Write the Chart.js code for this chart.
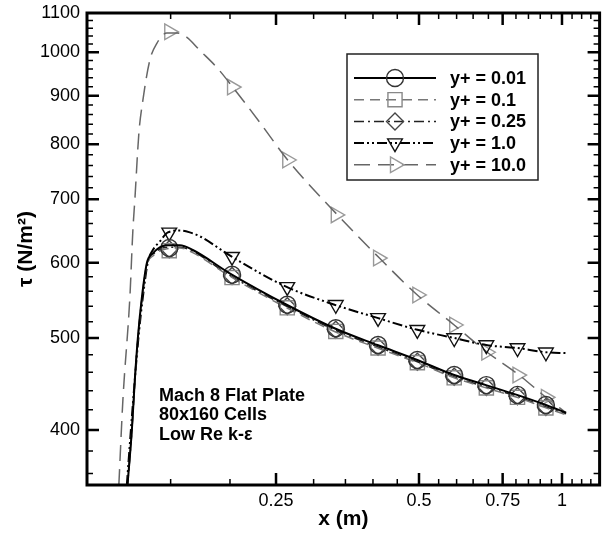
<!DOCTYPE html>
<html>
<head>
<meta charset="utf-8">
<script src="https://cdn.jsdelivr.net/npm/chart.js@4.4.0/dist/chart.umd.min.js"></script>
<style>
  html, body { margin: 0; padding: 0; background: #fff; }
</style>
</head>
<body>
<canvas id="tauChart" width="611" height="535"></canvas>
<script>
// Wall shear stress along a Mach 8 flat plate, one curve per first-cell y+
const seriesLabels = ['y+ = 0.01', 'y+ = 0.1', 'y+ = 0.25', 'y+ = 1.0', 'y+ = 10.0'];

// the three finest grids share one x grid
const xFine = [0.1217, 0.1243, 0.1261, 0.128, 0.1305, 0.1337, 0.1376, 0.1473, 0.1568, 0.167,
               0.1997, 0.2632, 0.3319, 0.4087, 0.496, 0.593, 0.692, 0.804, 0.925, 1.02];
const tau001 = [350, 400, 452, 501, 552, 600, 614, 626, 626, 619,
                585, 542, 512, 491.5, 474, 457, 446, 435.5, 425, 417];
const tau01  = [350, 399, 450, 499, 549, 597, 610, 621, 622, 615,
                581, 538, 508, 488, 471, 454, 443, 433, 422, 415];
const tau025 = [350, 399, 451, 500, 550, 598, 612, 623, 623, 617,
                582, 540, 510, 489.5, 472, 455, 444, 434, 423, 416];

const xY1 = [0.1213, 0.1237, 0.1261, 0.1286, 0.1311, 0.1343, 0.1376, 0.1424, 0.148, 0.1568, 0.1646,
             0.1727, 0.2017, 0.2632, 0.3319, 0.4087, 0.496, 0.593, 0.692, 0.804, 0.925, 1.02];
const tau1 = [350, 400, 452, 506, 552, 601, 619, 632, 646, 649, 646,
              640, 609, 566, 542, 525, 510, 500, 491.5, 488, 483, 482];

const xY10 = [0.1167, 0.119, 0.1231, 0.1249, 0.1261, 0.1286, 0.1311, 0.1356, 0.1403, 0.1473, 0.1546,
              0.1623, 0.1727, 0.1876, 0.2027, 0.2309, 0.2645, 0.3368, 0.4127, 0.496, 0.593,
              0.6957, 0.8122, 0.925, 1.02];
const tau10 = [350, 430, 552, 649, 699, 822, 890, 981, 1022, 1048, 1048,
               1037, 1005, 964, 919, 844, 770, 674, 607, 555, 516,
               483, 457, 433, 417];

// symbols are only plotted every few grid points
const markX   = [0.149, 0.202, 0.264, 0.334, 0.41, 0.496, 0.593, 0.693, 0.806, 0.925];
const mark001 = [622, 583, 542, 512, 491.5, 474, 457, 446, 435.5, 425];
const mark01  = [618, 579, 538, 508, 488, 471, 454, 443, 433, 422];
const mark025 = [620, 581, 540, 510, 489.5, 472, 455, 444, 434, 423];
const mark1   = [646, 609, 566, 542, 525, 510, 500, 491.5, 488, 483];
const mark10  = [1051, 919, 770, 674, 607, 555, 516, 483, 457, 433];

// axes
const xTickLabels = [0.25, 0.5, 0.75, 1];
const xMinorTicks = [0.15, 0.2, 0.3, 0.35, 0.4, 0.45, 0.55, 0.6, 0.65, 0.7,
                     0.8, 0.85, 0.9, 0.95, 1.05, 1.1, 1.15];
const yTickLabels = [400, 500, 600, 700, 800, 900, 1000, 1100];
const yMinorTicks = [360, 380, 420, 440, 460, 480, 520, 540, 560, 580, 620, 640, 660, 680,
                     720, 740, 760, 780, 820, 840, 860, 880, 920, 940, 960, 980,
                     1020, 1040, 1060, 1080];
const noteLines = ['Mach 8 Flat Plate', '80x160 Cells', 'Low Re k-\u03b5'];

const FONT = "'Liberation Sans', Arial, Helvetica, sans-serif";

const lineX = [xFine, xFine, xFine, xY1, xY10];
const lineY = [tau001, tau01, tau025, tau1, tau10];
const markY = [mark001, mark01, mark025, mark1, mark10];

// one style per curve: line colour/dash and symbol
const styles = [
  { color: '#000', width: 2,   dash: [],                 point: 'circle',   rot: 0,   r: 8.5, pc: '#333' },
  { color: '#777', width: 1.5, dash: [10, 6],            point: 'rect',     rot: 0,   r: 10,  pc: '#888' },
  { color: '#222', width: 1.5, dash: [10, 4, 2, 4],      point: 'rectRot',  rot: 0,   r: 8.5, pc: '#444' },
  { color: '#000', width: 2,   dash: [10, 3, 2, 3, 2, 3], point: 'triangle', rot: 180, r: 8.5, pc: '#111' },
  { color: '#666', width: 1.5, dash: [16, 8],            point: 'triangle', rot: 90,  r: 9,   pc: '#999' }
];

const toPoints = (xs, ys) => xs.map((x, i) => ({ x: x, y: ys[i] }));

const datasets = [];
seriesLabels.forEach((label, i) => {
  const s = styles[i];
  datasets.push({
    label: label,
    data: toPoints(lineX[i], lineY[i]),
    showLine: true,
    borderColor: s.color,
    borderWidth: s.width,
    borderDash: s.dash,
    pointRadius: 0,
    cubicInterpolationMode: 'monotone'
  });
  datasets.push({
    label: label + ' symbols',
    data: toPoints(markX, markY[i]),
    showLine: false,
    pointStyle: s.point,
    pointRotation: s.rot,
    pointRadius: s.r,
    pointBorderColor: s.pc,
    pointBackgroundColor: 'rgba(0,0,0,0)',
    pointBorderWidth: 1.4
  });
});

// frame with inward ticks on all four sides
const axisFrame = {
  id: 'axisFrame',
  afterDatasetsDraw(chart) {
    const { ctx, chartArea: a, scales: { x, y } } = chart;
    ctx.save();
    ctx.strokeStyle = '#000';
    const tick = (vals, len, w) => {
      ctx.lineWidth = w;
      ctx.beginPath();
      vals.forEach(v => {
        const px = x.getPixelForValue(v);
        if (px > a.left && px < a.right) {
          ctx.moveTo(px, a.bottom); ctx.lineTo(px, a.bottom - len);
          ctx.moveTo(px, a.top); ctx.lineTo(px, a.top + len);
        }
      });
      ctx.stroke();
    };
    const ytick = (vals, len, w) => {
      ctx.lineWidth = w;
      ctx.beginPath();
      vals.forEach(v => {
        const py = y.getPixelForValue(v);
        if (py > a.top && py < a.bottom) {
          ctx.moveTo(a.left, py); ctx.lineTo(a.left + len, py);
          ctx.moveTo(a.right, py); ctx.lineTo(a.right - len, py);
        }
      });
      ctx.stroke();
    };
    tick(xTickLabels, 12, 2.5);
    tick(xMinorTicks, 6, 1.5);
    ytick(yTickLabels, 12, 2.5);
    ytick(yMinorTicks, 6, 1.5);
    ctx.lineWidth = 3;
    ctx.strokeRect(a.left, a.top, a.right - a.left, a.bottom - a.top);
    ctx.restore();
  }
};

function drawSymbol(ctx, s, cx, cy) {
  ctx.save();
  ctx.strokeStyle = s.pc;
  ctx.lineWidth = 1.4;
  ctx.setLineDash([]);
  ctx.beginPath();
  if (s.point === 'circle') {
    ctx.arc(cx, cy, s.r, 0, Math.PI * 2);
  } else if (s.point === 'rect') {
    const h = s.r * Math.SQRT1_2;
    ctx.rect(cx - h, cy - h, 2 * h, 2 * h);
  } else if (s.point === 'rectRot') {
    ctx.moveTo(cx, cy - s.r); ctx.lineTo(cx + s.r, cy);
    ctx.lineTo(cx, cy + s.r); ctx.lineTo(cx - s.r, cy); ctx.closePath();
  } else {
    let rad = s.rot * Math.PI / 180;
    for (let k = 0; k < 3; k++) {
      const px = cx + Math.sin(rad) * s.r, py = cy - Math.cos(rad) * s.r;
      if (k === 0) ctx.moveTo(px, py); else ctx.lineTo(px, py);
      rad += 2 * Math.PI / 3;
    }
    ctx.closePath();
  }
  ctx.stroke();
  ctx.restore();
}

// boxed legend and the case note
const notes = {
  id: 'notes',
  afterDraw(chart) {
    const { ctx, chartArea: a } = chart;
    ctx.save();
    const bx = a.left + 260, by = a.top + 41, bw = 191, bh = 126;
    ctx.fillStyle = '#fff';
    ctx.fillRect(bx, by, bw, bh);
    ctx.strokeStyle = '#222';
    ctx.lineWidth = 1.5;
    ctx.strokeRect(bx, by, bw, bh);
    seriesLabels.forEach((label, i) => {
      const s = styles[i];
      const ry = by + 24 + i * 21.7;
      ctx.strokeStyle = s.color;
      ctx.lineWidth = s.width;
      ctx.setLineDash(s.dash);
      ctx.beginPath();
      ctx.moveTo(bx + 7, ry); ctx.lineTo(bx + 89, ry);
      ctx.stroke();
      ctx.setLineDash([]);
      drawSymbol(ctx, s, bx + 48, ry);
      ctx.fillStyle = '#000';
      ctx.font = 'bold 18px ' + FONT;
      ctx.textBaseline = 'middle';
      ctx.textAlign = 'left';
      ctx.fillText(label, bx + 103, ry + 1);
    });
    ctx.font = 'bold 18px ' + FONT;
    ctx.fillStyle = '#000';
    ctx.textBaseline = 'middle';
    noteLines.forEach((t, i) => {
      ctx.fillText(t, a.left + 72, a.top + 383 + i * 19.5);
    });
    ctx.restore();
  }
};

const ctx = document.getElementById('tauChart').getContext('2d');
new Chart(ctx, {
  type: 'scatter',
  data: { datasets: datasets },
  plugins: [axisFrame, notes],
  options: {
    responsive: false,
    animation: false,
    layout: { padding: { top: 13, right: 10, left: 0, bottom: 0 } },
    plugins: { legend: { display: false }, tooltip: { enabled: false } },
    scales: {
      x: {
        type: 'logarithmic',
        min: 0.1,
        max: 1.2,
        afterBuildTicks: s => { s.ticks = xTickLabels.map(v => ({ value: v })); },
        afterFit: s => { s.height = 50; s.paddingLeft = 0; s.paddingRight = 0; },
        ticks: {
          autoSkip: false, maxRotation: 0, padding: 5, color: '#000',
          font: { family: FONT, size: 18 },
          callback: v => String(v)
        },
        grid: { display: false, drawTicks: false },
        border: { display: false },
        title: {
          display: true, text: 'x (m)', color: '#000',
          font: { family: FONT, size: 21, weight: 'bold' },
          padding: { top: 0, bottom: 3 }
        }
      },
      y: {
        type: 'logarithmic',
        min: 350,
        max: 1100,
        afterBuildTicks: s => { s.ticks = yTickLabels.map(v => ({ value: v })); },
        afterFit: s => { s.width = 87; s.paddingTop = 0; s.paddingBottom = 0; },
        ticks: {
          autoSkip: false, padding: 7, color: '#000',
          font: { family: FONT, size: 18 },
          callback: v => String(v)
        },
        grid: { display: false, drawTicks: false },
        border: { display: false },
        title: {
          display: true, text: '\u03c4 (N/m\u00b2)', color: '#000',
          font: { family: FONT, size: 21, weight: 'bold' },
          padding: { top: 14, bottom: 0 }
        }
      }
    }
  }
});
</script>
</body>
</html>
